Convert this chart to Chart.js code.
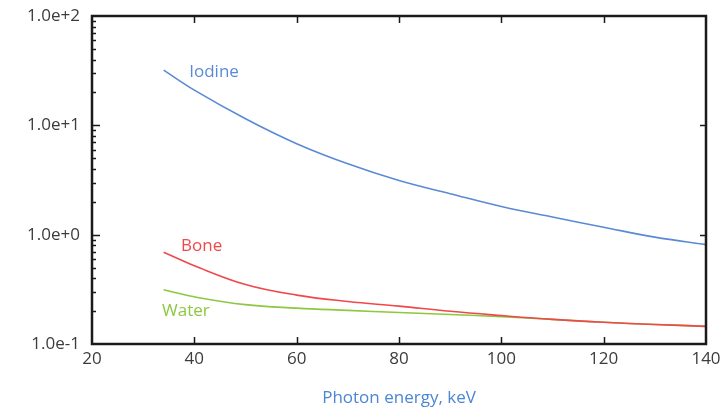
<!DOCTYPE html>
<html>
<head>
<meta charset="utf-8">
<script src="https://cdn.jsdelivr.net/npm/chart.js@4.4.1/dist/chart.umd.min.js"></script>
<style>
  html, body { margin: 0; padding: 0; background: #ffffff; }
  #wrap { width: 726px; height: 408px; position: relative; }
</style>
</head>
<body>
<div id="wrap"><canvas id="attenuationChart"></canvas></div>
<script>
// Mass attenuation vs photon energy
const energy = [34, 40, 50, 60, 70, 80, 90, 100, 110, 120, 130, 140];
const iodine = [32, 21, 11.5, 6.8, 4.45, 3.13, 2.37, 1.81, 1.45, 1.17, 0.95, 0.81];
const bone = [0.69, 0.52, 0.35, 0.28, 0.245, 0.222, 0.199, 0.182, 0.168, 0.158, 0.151, 0.145];
const water = [0.313, 0.27, 0.229, 0.213, 0.203, 0.194, 0.186, 0.178, 0.168, 0.158, 0.151, 0.145];

const xTicks = [20, 40, 60, 80, 100, 120, 140];
const yTicks = [0.1, 1, 10, 100];
const yTickLabels = ["1.0e-1", "1.0e+0", "1.0e+1", "1.0e+2"];

// curve name labels, placed in data coordinates
const curveNames = ["Iodine", "Bone", "Water"];
const curveNameX = [39, 37.4, 33.7];
const curveNameY = [30.5, 0.78, 0.199];

const colors = {
  iodine: "#5a8ad6",
  bone: "#f0484a",
  water: "#8cc840",
  title: "#4b86d4",
};
const nameColors = [colors.iodine, colors.bone, colors.water];

const FONT = "'Open Sans', sans-serif";

function series(values) {
  return energy.map((e, i) => ({ x: e, y: values[i] }));
}

// frame box, inward ticks and curve labels
const framePlugin = {
  id: "frame",
  afterDatasetsDraw(chart) {
    const ctx = chart.ctx;
    const area = chart.chartArea;
    const xs = chart.scales.x;
    const ys = chart.scales.y;
    ctx.save();

    ctx.strokeStyle = "#1a1a1a";
    ctx.lineWidth = 1.5;
    ctx.beginPath();
    xTicks.slice(1, -1).forEach((v) => {
      const px = Math.round(xs.getPixelForValue(v)) + 0.5;
      ctx.moveTo(px, area.bottom);
      ctx.lineTo(px, area.bottom - 7);
      ctx.moveTo(px, area.top);
      ctx.lineTo(px, area.top + 7);
    });
    yTicks.slice(1, -1).forEach((v) => {
      const py = Math.round(ys.getPixelForValue(v)) + 0.5;
      ctx.moveTo(area.left, py);
      ctx.lineTo(area.left + 8, py);
      ctx.moveTo(area.right, py);
      ctx.lineTo(area.right - 6, py);
    });
    yTicks.slice(0, -1).forEach((dec) => {
      for (let m = 2; m <= 9; m++) {
        const py = Math.round(ys.getPixelForValue(dec * m)) + 0.5;
        ctx.moveTo(area.left, py);
        ctx.lineTo(area.left + 4, py);
      }
    });
    ctx.stroke();

    ctx.lineWidth = 2.5;
    ctx.strokeRect(area.left, area.top, area.right - area.left, area.bottom - area.top);

    ctx.font = "17px " + FONT;
    ctx.textAlign = "left";
    ctx.textBaseline = "middle";
    curveNames.forEach((name, i) => {
      ctx.fillStyle = nameColors[i];
      ctx.fillText(name, xs.getPixelForValue(curveNameX[i]), ys.getPixelForValue(curveNameY[i]));
    });
    ctx.restore();
  },
};

new Chart(document.getElementById("attenuationChart"), {
  type: "line",
  data: {
    datasets: [
      { label: "Iodine", data: series(iodine), borderColor: colors.iodine },
      { label: "Bone", data: series(bone), borderColor: colors.bone },
      { label: "Water", data: series(water), borderColor: colors.water },
    ].map((d) => ({
      ...d,
      borderWidth: 1.6,
      pointRadius: 0,
      fill: false,
      tension: 0.4,
    })),
  },
  options: {
    responsive: true,
    maintainAspectRatio: false,
    animation: false,
    layout: { padding: { left: 0, right: 20, top: 16, bottom: 0 } },
    plugins: {
      legend: { display: false },
      tooltip: { enabled: false },
    },
    scales: {
      x: {
        type: "linear",
        min: 20,
        max: 140,
        afterBuildTicks: (scale) => {
          scale.ticks = xTicks.map((v) => ({ value: v }));
        },
        afterFit: (scale) => {
          scale.height = 64;
        },
        grid: { display: false, drawTicks: false },
        border: { display: false },
        ticks: {
          padding: 5,
          color: "#3c3c3c",
          font: { family: FONT, size: 17 },
          maxRotation: 0,
        },
        title: {
          display: true,
          text: "Photon energy, keV",
          color: colors.title,
          font: { family: FONT, size: 17 },
          padding: { top: 14, bottom: 0 },
        },
      },
      y: {
        type: "logarithmic",
        min: 0.1,
        max: 100,
        afterBuildTicks: (scale) => {
          scale.ticks = yTicks.map((v) => ({ value: v }));
        },
        afterFit: (scale) => {
          scale.width = 92;
          scale.paddingTop = 0;
          scale.paddingBottom = 0;
        },
        grid: { display: false, drawTicks: false },
        border: { display: false },
        ticks: {
          padding: 12,
          color: "#3c3c3c",
          font: { family: FONT, size: 17 },
          callback: (value) => yTickLabels[yTicks.indexOf(value)],
        },
      },
    },
  },
  plugins: [framePlugin],
});
</script>
</body>
</html>
